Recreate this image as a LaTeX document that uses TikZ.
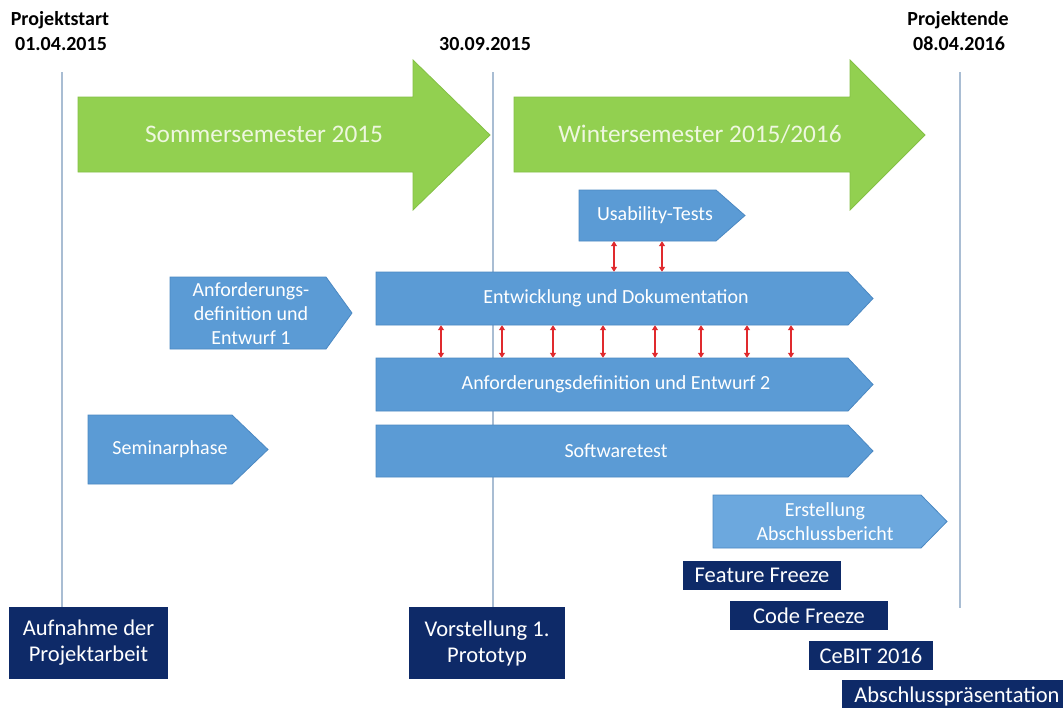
\documentclass[tikz,border=0pt]{standalone}
\usepackage{fontspec}
\setmainfont{Carlito}
\usetikzlibrary{arrows.meta}

\definecolor{grn}{HTML}{92D050}
\definecolor{grnedge}{HTML}{84C045}
\definecolor{grntxt}{HTML}{EEF7DF}
\definecolor{blu}{HTML}{5B9BD5}
\definecolor{bluedge}{HTML}{4B88C2}
\definecolor{blulight}{HTML}{6CA8DE}
\definecolor{navy}{HTML}{0E2A68}
\definecolor{tl}{HTML}{A9BDD3}
\definecolor{redar}{HTML}{E02A2E}

\tikzset{
  phase/.style={fill=blu, draw=bluedge, line width=0.8pt},
  phaselight/.style={fill=blulight, draw=bluedge, line width=0.8pt},
  ptext/.style={text=white, font=\fontsize{20}{24}\selectfont, align=center, inner sep=0pt},
  sem/.style={fill=grn, draw=grnedge, line width=0.8pt},
  semtext/.style={text=grntxt, font=\fontsize{25.3}{29}\selectfont, inner sep=0pt},
  milestone/.style={fill=navy, text=white, font=\fontsize{22.5}{26}\selectfont, align=center, inner sep=0pt},
  head/.style={font=\bfseries\fontsize{20}{24}\selectfont, inner sep=0pt},
  tline/.style={draw=tl, line width=1.3pt},
  link/.style={draw=redar, line width=1.2pt,
    arrows={Triangle[width=6pt,length=5pt]-Triangle[width=6pt,length=5pt]}}
}

\begin{document}
\begin{tikzpicture}[x=1pt,y=-1pt]
\useasboundingbox[fill=white] (0,0) rectangle (1063,707);

% dates above the time line
\node[head] (startA) at (60,20) {Projektstart};
\node[head] (startB) at (61,44) {01.04.2015};
\node[head] (mid) at (485,44) {30.09.2015};
\node[head] (endA) at (958,20) {Projektende};
\node[head] (endB) at (959,44) {08.04.2016};

% milestone boxes
\node[milestone, minimum width=159pt, minimum height=72pt] (aufn) at (88.5,643) {Aufnahme der\\Projektarbeit};
\node[milestone, minimum width=156pt, minimum height=72pt] (vorst) at (487,643) {Vorstellung 1.\\Prototyp};
\node[milestone, minimum width=158pt, minimum height=29pt] (ff) at (762,575.5) {Feature Freeze};
\node[milestone, minimum width=158pt, minimum height=29pt] (cf) at (809,615.5) {Code Freeze};
\node[milestone, minimum width=124pt, minimum height=29pt] (cebit) at (871,655.5) {CeBIT 2016};
\node[milestone, minimum width=230pt, minimum height=32pt] (absch) at (957,696) {Abschlusspräsentation};

% vertical time marks
\coordinate (t1) at (62,72);
\coordinate (t2) at (493,72);
\coordinate (t3) at (960,72);
\coordinate (t3e) at (960,608);
\draw[tline] (t1) -- (aufn.north -| t1);
\draw[tline] (t2) -- (vorst.north -| t2);
\draw[tline] (t3) -- (t3e);

% semester arrows
\path[sem] (78,97) -- (413,97) -- (413,60) -- (490,135) -- (413,210) -- (413,172) -- (78,172) -- cycle;
\node[semtext] (sose) at (264,134) {Sommersemester 2015};
\path[sem] (514,97) -- (850,97) -- (850,60) -- (925,135) -- (850,210) -- (850,172) -- (514,172) -- cycle;
\node[semtext] (wise) at (700,134) {Wintersemester 2015/2016};

% project phases
\path[phase] (579,190) -- (716,190) -- (745,215.5) -- (716,241) -- (579,241) -- cycle;
\node[ptext, minimum height=51pt] (usab) at (655,215.5) {Usability-Tests};

\path[phase] (170,277) -- (326,277) -- (352,313) -- (326,349) -- (170,349) -- cycle;
\node[ptext, minimum height=72pt] (anf1) at (251,314) {Anforderungs-\\definition und\\Entwurf 1};

\path[phase] (376,272) -- (848,272) -- (873,298.5) -- (848,325) -- (376,325) -- cycle;
\node[ptext, minimum height=53pt] (ent) at (616,298.5) {Entwicklung und Dokumentation};

\path[phase] (376,358) -- (848,358) -- (873,384.5) -- (848,411) -- (376,411) -- cycle;
\node[ptext, minimum height=53pt] (anf2) at (616,384.5) {Anforderungsdefinition und Entwurf 2};

\path[phase] (88,415) -- (232,415) -- (268,449.5) -- (232,484) -- (88,484) -- cycle;
\node[ptext, minimum height=69pt] (sem) at (170,449.5) {Seminarphase};

\path[phase] (376,425) -- (848,425) -- (873,451) -- (848,477) -- (376,477) -- cycle;
\node[ptext, minimum height=52pt] (test) at (616,451) {Softwaretest};

\path[phaselight] (713,495) -- (921,495) -- (947,521.5) -- (921,548) -- (713,548) -- cycle;
\node[ptext, minimum height=53pt] (bericht) at (825,521.5) {Erstellung\\Abschlussbericht};

% links between parallel phases
\draw[link] ([xshift=-41pt]usab.south) -- ([xshift=-2pt]ent.north);
\draw[link] ([xshift=7pt]usab.south) -- ([xshift=46pt]ent.north);
\foreach \dx in {-175,-114,-63,-13,39,85,131,175}
  \draw[link] ([xshift=\dx pt]ent.south) -- ([xshift=\dx pt]anf2.north);
\end{tikzpicture}
\end{document}
